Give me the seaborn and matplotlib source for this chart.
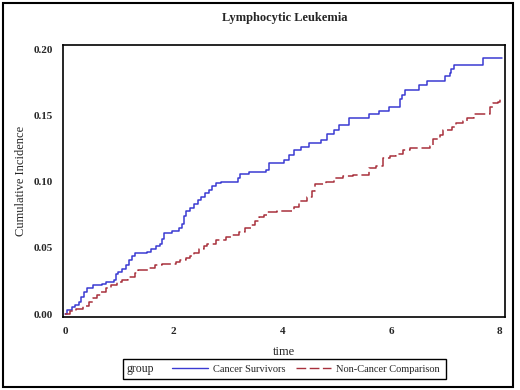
import matplotlib
matplotlib.use("Agg")
import numpy as np
import pandas as pd
import seaborn as sns
import matplotlib.pyplot as plt
from matplotlib.patches import Rectangle

# ------ data (step points, level after each time) ------ #
groups = ["Cancer Survivors", "Non-Cancer Comparison"]

survivor_time = [0, 0.03, 0.12, 0.18, 0.25, 0.30, 0.35, 0.40, 0.52, 0.68, 0.76, 0.90,
                 0.93, 0.98, 1.05, 1.12, 1.17, 1.23, 1.29, 1.50, 1.58, 1.68, 1.75, 1.79,
                 1.83, 1.97, 2.10, 2.16, 2.19, 2.22, 2.30, 2.38, 2.45, 2.50, 2.58, 2.65,
                 2.70, 2.78, 2.88, 3.18, 3.23, 3.38, 3.70, 3.76, 4.04, 4.12, 4.21, 4.35,
                 4.50, 4.72, 4.83, 4.95, 5.05, 5.22, 5.60, 5.78, 5.97, 6.17, 6.20, 6.25,
                 6.51, 6.66, 7.00, 7.08, 7.11, 7.16, 7.69, 8.04]
survivor_ci = [0, 0.003, 0.005, 0.007, 0.009, 0.013, 0.017, 0.020, 0.022, 0.023, 0.024, 0.026,
               0.030, 0.032, 0.034, 0.037, 0.041, 0.044, 0.046, 0.047, 0.049, 0.051, 0.053, 0.057,
               0.061, 0.063, 0.065, 0.068, 0.074, 0.078, 0.080, 0.083, 0.086, 0.088, 0.091, 0.094,
               0.097, 0.099, 0.100, 0.103, 0.106, 0.107, 0.109, 0.114, 0.116, 0.120, 0.124, 0.126,
               0.129, 0.131, 0.136, 0.139, 0.143, 0.148, 0.151, 0.153, 0.156, 0.162, 0.165, 0.169,
               0.173, 0.176, 0.180, 0.182, 0.185, 0.188, 0.193, 0.193]

comparison_time = [0, 0.09, 0.20, 0.33, 0.45, 0.52, 0.58, 0.66, 0.75, 0.85, 0.95, 1.04,
                   1.15, 1.28, 1.35, 1.55, 1.65, 1.78, 2.05, 2.12, 2.22, 2.30, 2.38, 2.47,
                   2.55, 2.62, 2.78, 2.96, 3.08, 3.20, 3.32, 3.42, 3.50, 3.58, 3.66, 3.72,
                   3.90, 4.22, 4.31, 4.45, 4.55, 4.60, 4.80, 4.95, 5.12, 5.30, 5.60, 5.73,
                   5.85, 5.98, 6.10, 6.22, 6.35, 6.72, 6.77, 6.90, 6.96, 7.12, 7.20, 7.32,
                   7.40, 7.53, 7.82, 7.88, 7.97, 8.01]
comparison_ci = [0, 0.002, 0.004, 0.006, 0.009, 0.012, 0.014, 0.017, 0.020, 0.022, 0.024, 0.026,
                 0.028, 0.031, 0.033, 0.035, 0.037, 0.038, 0.039, 0.041, 0.042, 0.044, 0.046, 0.049,
                 0.051, 0.053, 0.056, 0.058, 0.060, 0.062, 0.065, 0.067, 0.070, 0.073, 0.075, 0.077,
                 0.078, 0.081, 0.085, 0.088, 0.093, 0.098, 0.100, 0.103, 0.104, 0.105, 0.110, 0.112,
                 0.118, 0.119, 0.121, 0.124, 0.125, 0.127, 0.132, 0.135, 0.139, 0.141, 0.144, 0.146,
                 0.148, 0.151, 0.156, 0.159, 0.160, 0.163]

x_ticks = [0, 2, 4, 6, 8]
y_ticks = [0.00, 0.05, 0.10, 0.15, 0.20]

data = pd.concat([
    pd.DataFrame({"time": survivor_time, "ci": survivor_ci, "group": groups[0]}),
    pd.DataFrame({"time": comparison_time, "ci": comparison_ci, "group": groups[1]}),
])

# ------ style ------ #
sns.set_style("white")
plt.rcParams['font.family'] = ['Liberation Serif', 'DejaVu Serif']

fig = plt.figure(figsize=(5.2, 3.9), dpi=100)
ax = fig.add_axes([0.1212, 0.187, 0.850, 0.697])

palette = {groups[0]: "#3a3ad2", groups[1]: "#a8303c"}
dashes = {groups[0]: "", groups[1]: (7, 2.5)}
sns.lineplot(
    data=data, x="time", y="ci", hue="group", style="group",
    palette=palette, dashes=dashes, estimator=None, sort=True,
    drawstyle="steps-post", linewidth=1.1, ax=ax, legend=False,
)

ax.set_xlim(-0.037, 8.10)
ax.set_ylim(-0.0023, 0.2029)
ax.set_xticks(x_ticks)
ax.set_xticklabels([str(t) for t in x_ticks], fontsize=8, fontweight="bold")
ax.set_yticks(y_ticks)
ax.set_yticklabels([f"{v:.2f}" for v in y_ticks], fontsize=8, fontweight="bold")
ax.tick_params(direction="out", length=4, width=1, color="black", pad=3)
for s in ax.spines.values():
    s.set_color("black")
    s.set_linewidth(1.2)

ax.set_xlabel("time", fontsize=9, labelpad=7)
ax.set_ylabel("Cumulative Incidence", fontsize=9, labelpad=5)
fig.text(0.548, 0.953, "Lymphocytic Leukemia", ha="center", va="center",
         fontsize=9, fontweight="bold")

# ------ legend box with inline "group" label ------ #
fig.patches.append(Rectangle((0.2365, 0.0282), 0.621, 0.0513, transform=fig.transFigure,
                             fill=False, edgecolor="black", linewidth=1.0))
fig.text(0.244, 0.0538, "group", ha="left", va="center", fontsize=8.5)
handles = [plt.Line2D([], [], color=palette[g], linewidth=1.0,
                      linestyle=(0, (7, 2.5)) if i == 1 else "-")
           for i, g in enumerate(groups)]
fig.legend(handles, groups, loc="center left", bbox_to_anchor=(0.331, 0.0538),
           ncol=2, frameon=False, fontsize=7.5, handlelength=3.4,
           handletextpad=0.5, columnspacing=1.0, borderpad=0, borderaxespad=0)

# ------ outer frame ------ #
fig.patches.append(Rectangle((0.006, 0.0077), 0.981, 0.985, transform=fig.transFigure,
                             fill=False, edgecolor="black", linewidth=1.5))

plt.savefig("out.png", dpi=100)
